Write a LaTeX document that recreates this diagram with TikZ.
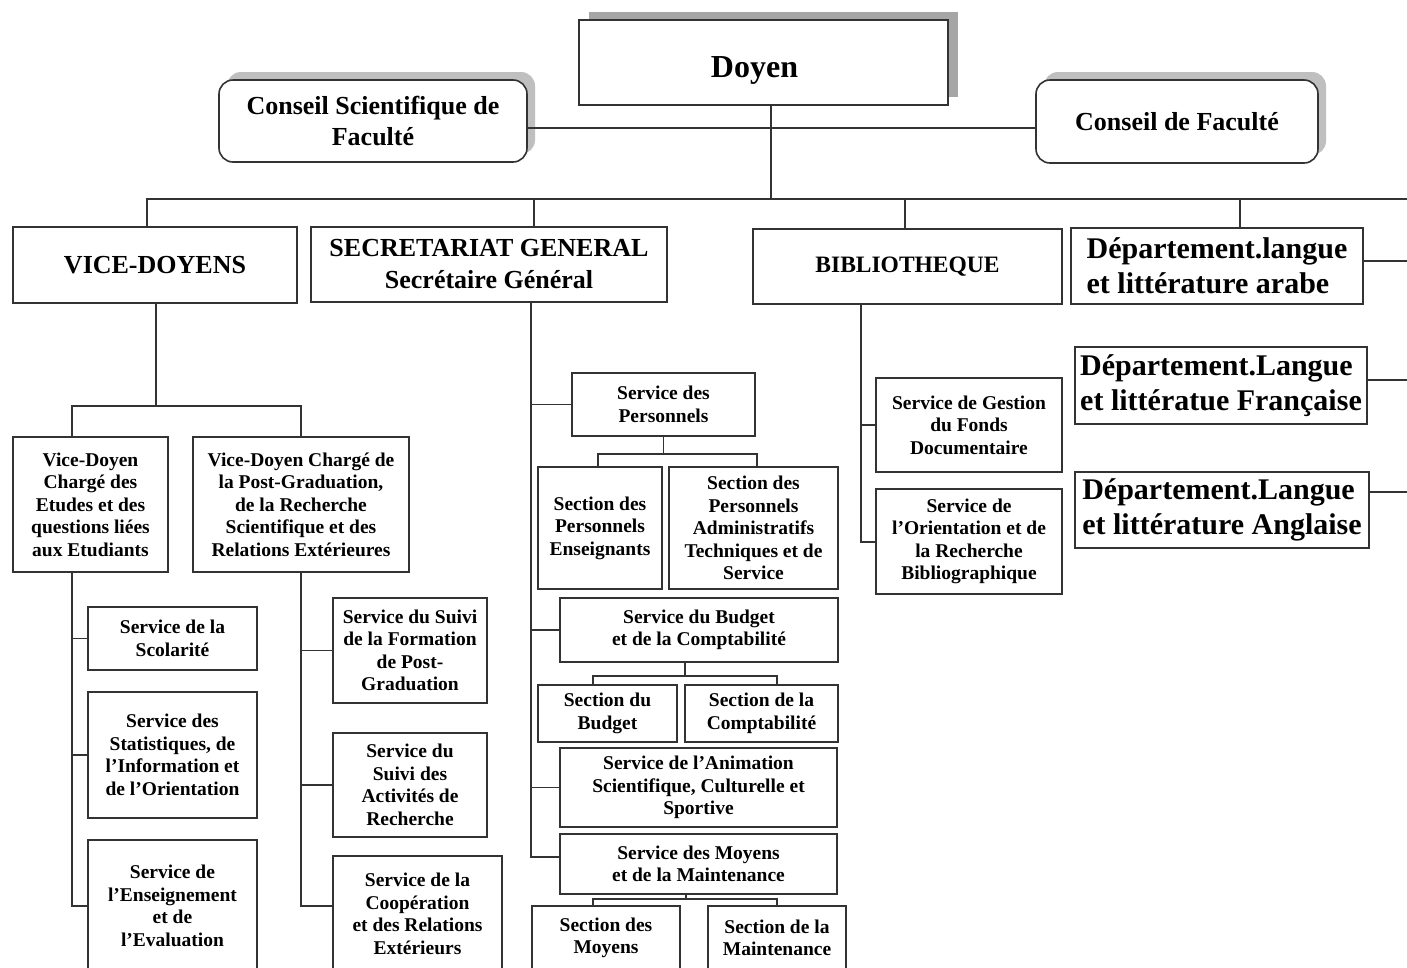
\documentclass[tikz,border=0pt]{standalone}
\usepackage{fontspec}
\setmainfont{Liberation Serif}
\newfontfamily\depfont{Liberation Serif}
\usetikzlibrary{shadows}
\begin{document}
\begin{tikzpicture}[x=1pt,y=-1pt,
  ln/.style={draw=black!80, line width=1.6pt},
  bx/.style={ln, fill=white, align=center, inner sep=0pt, font=\bfseries\fontsize{19.5}{22.5}\selectfont},
  midbx/.style={bx, font=\bfseries\fontsize{26}{32}\selectfont},
  rbx/.style={bx, rounded corners=14pt, font=\bfseries\fontsize{26}{31}\selectfont,
     drop shadow={shadow xshift=8pt, shadow yshift=8pt, fill=gray!50, opacity=1}},
  topbx/.style={bx, font=\bfseries\fontsize{32}{36}\selectfont,
     drop shadow={shadow xshift=10pt, shadow yshift=8pt, fill=gray!70, opacity=1}},
  depbx/.style={ln, fill=white, align=left, inner sep=0pt, font=\depfont\bfseries\fontsize{30}{35}\selectfont},
  wire/.style={ln, line cap=rect}]
\useasboundingbox (0,0) rectangle (1407,967);
\fill[white] (0,0) rectangle (1407,967);
\clip (0,0) rectangle (1407,967);

% coordinates for connector bends
\coordinate (cl) at (771,128);
\coordinate (dy) at (771,199);
\coordinate (busL) at (147,199);
\coordinate (busR) at (1407,199);
\coordinate (sgd) at (534,199);
\coordinate (bibd) at (905,199);
\coordinate (dard) at (1240,199);
\coordinate (eA) at (1407,261);
\coordinate (eF) at (1407,380);
\coordinate (eN) at (1407,492);
\coordinate (vdj) at (156,406);
\coordinate (v1) at (72,406);
\coordinate (v2) at (301,406);
\coordinate (t1) at (72,906);
\coordinate (t2) at (301,906);
\coordinate (t3) at (531,857);
\coordinate (t4) at (861,542);
\coordinate (pj) at (663.5,454);
\coordinate (p1) at (598,454);
\coordinate (p2) at (757,454);
\coordinate (bj) at (685,676);
\coordinate (b1) at (593,676);
\coordinate (b2) at (777,676);
\coordinate (mj) at (686,899);
\coordinate (m1) at (593,899);
\coordinate (m2) at (777,899);

% connectors drawn first (behind boxes)
\draw[wire] (busL) -- (busR);
\draw[wire] (busL) -- ++(0,28);
\draw[wire] (sgd) -- ++(0,28);
\draw[wire] (bibd) -- ++(0,30);
\draw[wire] (dard) -- ++(0,29);

% top level
\node[topbx, minimum width=369pt, minimum height=85pt, text height=30pt, text depth=0pt] (doyen) at (763.5,62.5) {\hspace*{-18pt}Doyen};
\node[rbx, minimum width=308pt, minimum height=82pt] (csf) at (373,121) {Conseil Scientifique de\\Faculté};
\node[rbx, minimum width=282pt, minimum height=83pt] (cf) at (1177,121.5) {Conseil de Faculté};
\draw[wire] (csf.east |- cl) -- (cf.west |- cl);
\draw[wire] (doyen.south -| dy) -- (dy);

% second level
\node[midbx, minimum width=284pt, minimum height=76pt] (vd) at (155,265) {VICE-DOYENS};
\node[midbx, minimum width=356pt, minimum height=75pt] (sg) at (489,264.5) {SECRETARIAT GENERAL\\Secrétaire Général};
\node[midbx, font=\bfseries\fontsize{23.5}{28}\selectfont, minimum width=309pt, minimum height=75pt] (bib) at (907.5,266.5) {BIBLIOTHEQUE};
\node[depbx, minimum width=292pt, minimum height=76pt] (dar) at (1217,266) {Département.langue\\et littérature arabe};
\node[depbx, minimum width=292pt, minimum height=77pt] (dfr) at (1221,385.5) {Département.Langue\\et littératue Française};
\node[depbx, minimum width=294pt, minimum height=76pt] (dan) at (1222,510) {Département.Langue\\et littérature Anglaise};
\draw[wire] (dar.east |- eA) -- (eA);
\draw[wire] (dfr.east |- eF) -- (eF);
\draw[wire] (dan.east |- eN) -- (eN);

% vice-doyens branch
\node[bx, minimum width=155pt, minimum height=135pt] (vd1) at (90.5,504.5) {Vice-Doyen\\Chargé des\\Etudes et des\\questions liées\\aux Etudiants};
\node[bx, minimum width=216pt, minimum height=135pt] (vd2) at (301,504.5) {Vice-Doyen Chargé de\\la Post-Graduation,\\de la Recherche\\Scientifique et des\\Relations Extérieures};
\draw[wire] (vd.south -| vdj) -- (vdj);
\draw[wire] (v1 |- vd1.north) -- (v1) -- (v2) -- (v2 |- vd2.north);

\node[bx, minimum width=169pt, minimum height=63pt] (sco) at (172.5,638.5) {Service de la\\Scolarité};
\node[bx, minimum width=169pt, minimum height=126pt] (sta) at (172.5,755) {Service des\\Statistiques, de\\l’Information et\\de l’Orientation};
\node[bx, minimum width=169pt, minimum height=132pt] (ens) at (172.5,906) {Service de\\l’Enseignement\\et de\\l’Evaluation};
\draw[wire] (vd1.south -| t1) -- (t1) -- (ens.west |- t1);
\draw[wire] (t1 |- sco.west) -- (sco.west);
\draw[wire] (t1 |- sta.west) -- (sta.west);

\node[bx, minimum width=154pt, minimum height=105pt] (sfp) at (410,650.5) {Service du Suivi\\de la Formation\\de Post-\\Graduation};
\node[bx, minimum width=154pt, minimum height=104pt] (sar) at (410,785) {Service du\\Suivi des\\Activités de\\Recherche};
\node[bx, minimum width=169pt, minimum height=116pt] (coo) at (417.5,914) {Service de la\\Coopération\\et des Relations\\Extérieurs};
\draw[wire] (vd2.south -| t2) -- (t2) -- (coo.west |- t2);
\draw[wire] (t2 |- sfp.west) -- (sfp.west);
\draw[wire] (t2 |- sar.west) -- (sar.west);

% secretariat branch
\node[bx, minimum width=183pt, minimum height=63pt] (per) at (663.5,404.5) {Service des\\Personnels};
\node[bx, minimum width=124pt, minimum height=122pt] (spe) at (600,528) {Section des\\Personnels\\Enseignants};
\node[bx, minimum width=169pt, minimum height=122pt] (spa) at (753.5,528) {Section des\\Personnels\\Administratifs\\Techniques et de\\Service};
\node[bx, minimum width=278pt, minimum height=64pt] (bud) at (699,630) {Service du Budget\\et de la Comptabilité};
\node[bx, minimum width=139pt, minimum height=57pt] (sbu) at (607.5,713.5) {Section du\\Budget};
\node[bx, minimum width=153pt, minimum height=57pt] (scp) at (761.5,713.5) {Section de la\\Comptabilité};
\node[bx, minimum width=277pt, minimum height=79pt] (ani) at (698.5,787.5) {Service de l’Animation\\Scientifique, Culturelle et\\Sportive};
\node[bx, minimum width=277pt, minimum height=60pt] (moy) at (698.5,864) {Service des Moyens\\et de la Maintenance};
\node[bx, minimum width=148pt, minimum height=64pt] (smo) at (606,938) {Section des\\Moyens};
\node[bx, minimum width=138pt, minimum height=64pt] (sma) at (777,938) {Section de la\\Maintenance};

\draw[wire] (sg.south -| t3) -- (t3) -- (moy.west |- t3);
\draw[wire] (t3 |- per.west) -- (per.west);
\draw[wire] (t3 |- bud.west) -- (bud.west);
\draw[wire] (t3 |- ani.west) -- (ani.west);
\draw[wire] (per.south) -- (pj);
\draw[wire] (p1 |- spe.north) -- (p1) -- (p2) -- (p2 |- spa.north);
\draw[wire] (bud.south -| bj) -- (bj);
\draw[wire] (b1 |- sbu.north) -- (b1) -- (b2) -- (b2 |- scp.north);
\draw[wire] (moy.south -| mj) -- (mj);
\draw[wire] (m1 |- smo.north) -- (m1) -- (m2) -- (m2 |- sma.north);

% bibliotheque branch
\node[bx, minimum width=186pt, minimum height=94pt] (gfd) at (969,425) {Service de Gestion\\du Fonds\\Documentaire};
\node[bx, minimum width=186pt, minimum height=105pt] (orb) at (969,541.5) {Service de\\l’Orientation et de\\la Recherche\\Bibliographique};
\draw[wire] (bib.south -| t4) -- (t4) -- (orb.west |- t4);
\draw[wire] (t4 |- gfd.west) -- (gfd.west);
\end{tikzpicture}
\end{document}
